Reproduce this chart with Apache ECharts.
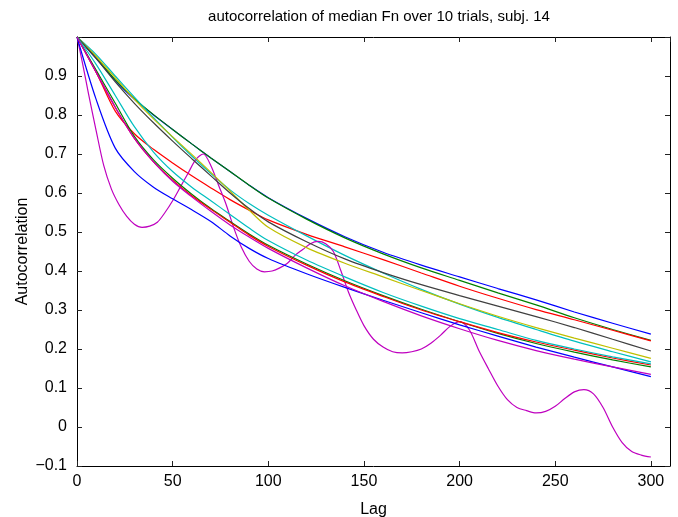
<!DOCTYPE html>
<html>
<head>
<meta charset="utf-8">
<script src="https://cdn.jsdelivr.net/npm/echarts@6/dist/echarts.min.js"></script>
<style>
html,body{margin:0;padding:0;background:#fff;}
#chart{width:678px;height:517px;}
</style>
</head>
<body>
<div id="chart"></div>
<script>
const titleText = 'autocorrelation of median Fn over 10 trials, subj. 14';
const xName = 'Lag';
const yName = 'Autocorrelation';

const lags = [0,10,20,30,40,50,60,70,80,90,100,120,140,160,180,200,220,240,260,280,300];
const blue1   = [1,0.945,0.888,0.840,0.800,0.763,0.726,0.690,0.655,0.620,0.588,0.535,0.488,0.448,0.415,0.385,0.355,0.326,0.295,0.266,0.238];
const green1  = [1,0.947,0.890,0.842,0.801,0.763,0.726,0.690,0.655,0.620,0.587,0.533,0.485,0.444,0.408,0.376,0.344,0.313,0.280,0.250,0.222];
const red1    = [1,0.910,0.810,0.752,0.712,0.677,0.644,0.613,0.583,0.556,0.531,0.494,0.462,0.429,0.395,0.361,0.330,0.301,0.275,0.248,0.221];
const cyan1   = [1,0.955,0.900,0.846,0.793,0.743,0.695,0.650,0.608,0.573,0.543,0.490,0.440,0.395,0.353,0.315,0.281,0.250,0.220,0.193,0.167];
const yellow1 = [1,0.950,0.895,0.840,0.790,0.744,0.699,0.653,0.605,0.556,0.512,0.460,0.420,0.385,0.350,0.316,0.284,0.255,0.228,0.202,0.176];
const gray1   = [1,0.945,0.885,0.830,0.780,0.733,0.688,0.644,0.600,0.560,0.526,0.475,0.431,0.396,0.365,0.337,0.310,0.283,0.255,0.225,0.195];
const blue2   = [1,0.840,0.715,0.655,0.615,0.585,0.557,0.527,0.490,0.458,0.432,0.393,0.358,0.325,0.293,0.262,0.233,0.205,0.179,0.154,0.129];
const green2  = [1,0.915,0.830,0.745,0.685,0.638,0.597,0.560,0.527,0.495,0.466,0.418,0.375,0.337,0.302,0.270,0.240,0.214,0.192,0.172,0.154];
const red2    = [1,0.910,0.820,0.740,0.680,0.633,0.593,0.558,0.525,0.492,0.463,0.415,0.372,0.335,0.300,0.270,0.242,0.218,0.197,0.177,0.159];
const cyan2   = [1,0.930,0.850,0.770,0.705,0.655,0.615,0.580,0.545,0.510,0.478,0.428,0.385,0.345,0.310,0.278,0.250,0.222,0.200,0.180,0.162];
const magenta2= [1,0.910,0.820,0.740,0.680,0.630,0.590,0.553,0.518,0.487,0.458,0.408,0.362,0.322,0.285,0.252,0.222,0.196,0.174,0.154,0.135];

const lagsWiggly = [0,3,6,10,14,18,22,26,30,34,38,42,46,50,54,58,62,66,70,74,78,82,86,90,94,98,102,106,110,114,118,122,126,130,134,138,142,146,150,155,160,165,170,175,180,185,190,195,200,205,210,215,220,225,230,235,240,245,250,255,260,265,270,275,280,285,290,295,300];
const magenta1 = [1,0.93,0.855,0.76,0.67,0.61,0.57,0.54,0.52,0.512,0.515,0.525,0.55,0.58,0.615,0.65,0.685,0.70,0.67,0.62,0.57,0.51,0.46,0.425,0.405,0.398,0.40,0.408,0.42,0.44,0.455,0.47,0.476,0.47,0.45,0.40,0.345,0.30,0.26,0.225,0.205,0.193,0.19,0.193,0.20,0.215,0.235,0.258,0.27,0.25,0.197,0.15,0.105,0.07,0.05,0.042,0.036,0.04,0.053,0.073,0.09,0.096,0.085,0.05,0.0,-0.04,-0.063,-0.072,-0.077];

const xTicks = {min: 0, max: 310, interval: 50};
const yTicks = {min: -0.1, max: 1.0, interval: 0.1};

const C = {
  b: 'rgb(0,0,255)', g: 'rgb(0,128,0)', r: 'rgb(255,0,0)', c: 'rgb(0,191,191)',
  m: 'rgb(191,0,191)', y: 'rgb(191,191,0)', k: 'rgb(64,64,64)'
};

function zip(xs, ys){ return xs.map((x,i)=>[x, ys[i]]); }
function mk(name, xs, ys, color){
  return {name, type:'line', data: zip(xs, ys), showSymbol:false, smooth:0.3,
    lineStyle:{color, width:1.2}, itemStyle:{color}, silent:true, animation:false, z:2};
}

const series = [
  mk('1', lags, blue1, C.b),
  mk('2', lags, green1, C.g),
  mk('3', lags, red1, C.r),
  mk('4', lags, cyan1, C.c),
  mk('5', lagsWiggly, magenta1, C.m),
  mk('6', lags, yellow1, C.y),
  mk('7', lags, gray1, C.k),
  mk('8', lags, blue2, C.b),
  mk('9', lags, green2, C.g),
  mk('10', lags, red2, C.r),
  mk('11', lags, cyan2, C.c),
  mk('12', lags, magenta2, C.m)
];

const font = 'Liberation Sans, Arial, Helvetica, sans-serif';
function yFmt(v){
  const r = Math.round(v*10)/10;
  if (r === 1) return '';
  return r < 0 ? '\u2212' + Math.abs(r) : String(r);
}
const axisLineStyle = {color:'#000', width:1};
const tickStyle = {color:'#222', width:1};

const chart = echarts.init(document.getElementById('chart'), null, {renderer:'canvas'});
chart.setOption({
  animation:false,
  backgroundColor:'#fff',
  grid:{left:77, right:8, top:37, bottom:51, containLabel:false, outerBoundsMode:'none'},
  graphic:[{type:'text', x:379, y:17, style:{text:titleText, font:'15px ' + font, fill:'#000', textAlign:'center', textVerticalAlign:'middle'}}],
  xAxis:[
    {type:'value', min:xTicks.min, max:xTicks.max, interval:xTicks.interval, position:'bottom',
     name:xName, nameLocation:'middle', nameGap:36, nameMoveOverlap:false, nameTextStyle:{fontFamily:font, fontSize:16, color:'#000'},
     axisLine:{show:true, onZero:false, lineStyle:axisLineStyle},
     axisTick:{show:true, inside:true, length:5, lineStyle:tickStyle},
     axisLabel:{show:true, showMaxLabel:false, margin:8, fontFamily:font, fontSize:16, color:'#000'},
     splitLine:{show:false}},
    {type:'value', min:xTicks.min, max:xTicks.max, interval:xTicks.interval, position:'top',
     axisLine:{show:true, onZero:false, lineStyle:axisLineStyle},
     axisTick:{show:true, inside:true, length:5, lineStyle:tickStyle},
     axisLabel:{show:false}, splitLine:{show:false}}
  ],
  yAxis:[
    {type:'value', min:yTicks.min, max:yTicks.max, interval:yTicks.interval, position:'left',
     name:yName, nameLocation:'middle', nameGap:46, nameMoveOverlap:false, nameTextStyle:{fontFamily:font, fontSize:16, color:'#000'},
     axisLine:{show:true, onZero:false, lineStyle:axisLineStyle},
     axisTick:{show:true, inside:true, length:5, lineStyle:tickStyle},
     axisLabel:{show:true, margin:10, fontFamily:font, fontSize:16, color:'#000', formatter:yFmt},
     splitLine:{show:false}},
    {type:'value', min:yTicks.min, max:yTicks.max, interval:yTicks.interval, position:'right',
     axisLine:{show:true, onZero:false, lineStyle:axisLineStyle},
     axisTick:{show:true, inside:true, length:5, lineStyle:tickStyle},
     axisLabel:{show:false}, splitLine:{show:false}}
  ],
  series
});
</script>
</body>
</html>
